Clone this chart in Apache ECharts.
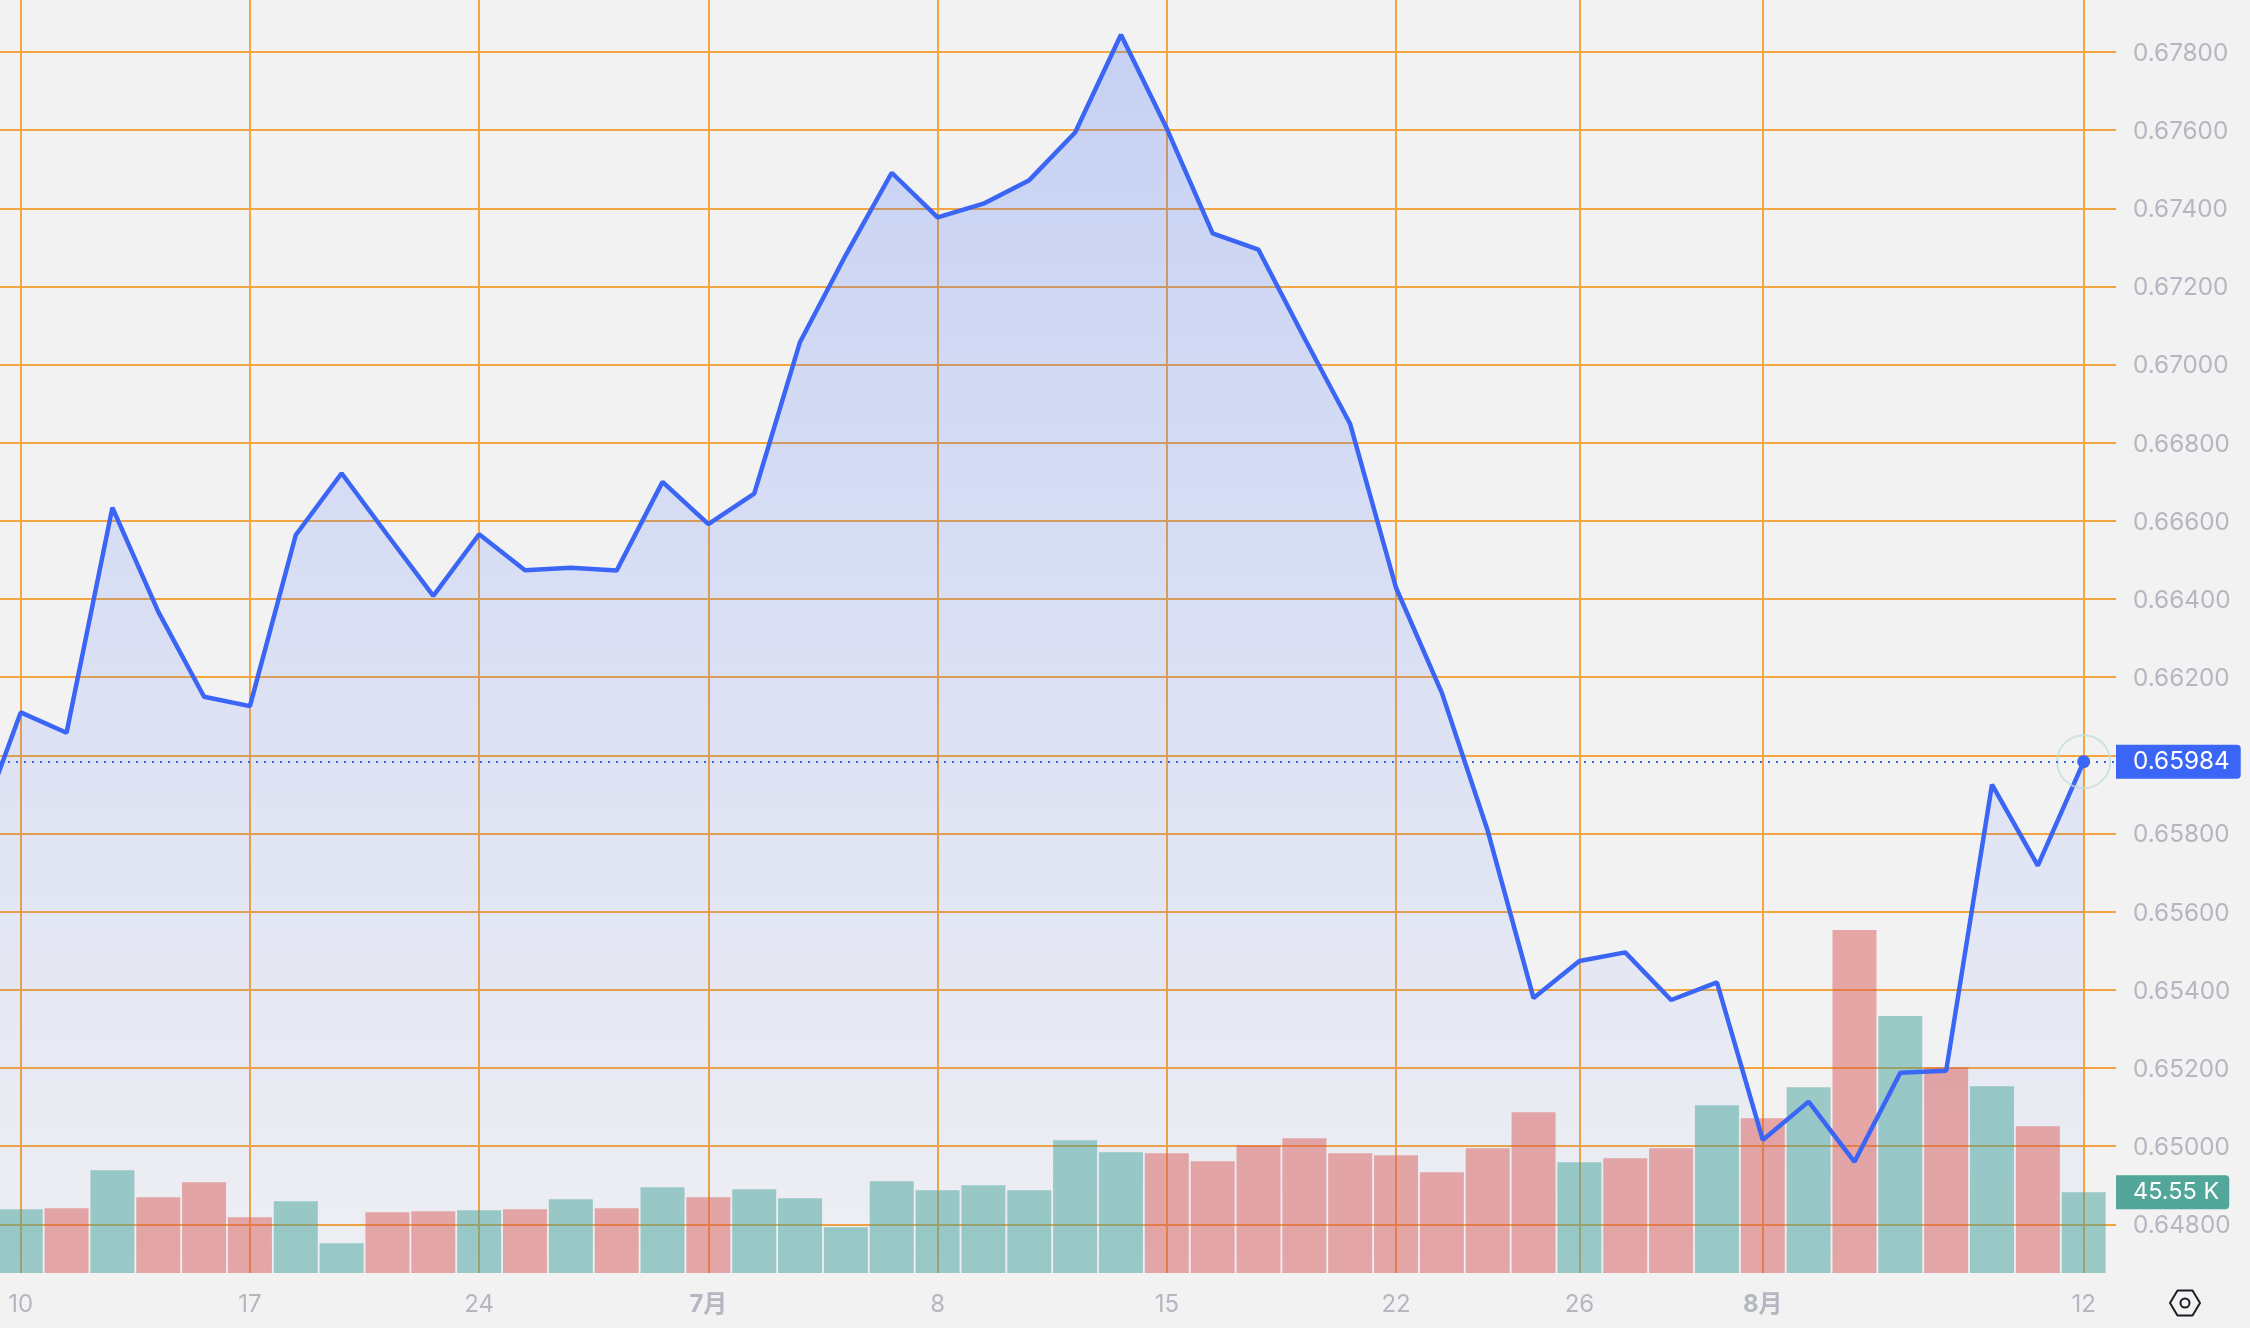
<!DOCTYPE html>
<html>
<head>
<meta charset="utf-8">
<style>html,body{margin:0;padding:0;background:#f2f2f3}#c{width:2250px;height:1328px}</style>
<script src="https://cdn.jsdelivr.net/npm/echarts@6/dist/echarts.min.js"></script>
</head>
<body>
<div id="c"></div>
<script>
// Prices; the first session sits just left of the visible window.
const closeValues = [0.65789,0.66110,0.66058,0.66634,0.66368,0.66150,0.66126,0.66564,0.66722,0.66564,0.66408,0.66566,0.66474,0.66480,0.66473,0.66700,0.66592,0.66670,0.67058,0.67281,0.67491,0.67377,0.67412,0.67472,0.67594,0.67844,0.67604,0.67336,0.67294,0.67068,0.66848,0.66429,0.66160,0.65807,0.65379,0.65474,0.65496,0.65374,0.65419,0.65016,0.65114,0.64960,0.65188,0.65193,0.65925,0.65718,0.65984];
// Volumes in thousands, starting from the session labelled 10.
const volumeValues = [35.9,36.5,58.0,42.7,51.2,31.4,40.5,16.8,34.3,34.8,35.4,35.9,41.6,36.5,48.4,42.7,47.2,42.2,25.8,51.8,46.7,49.5,46.7,74.9,68.1,67.6,63.0,72.1,76.0,67.6,66.4,56.8,70.4,90.7,62.5,64.7,70.4,94.6,87.3,104.8,193.4,144.9,116.1,105.4,82.8,45.55];
const volumeDirs = ['u','d','u','d','d','d','u','u','d','d','u','d','u','d','u','d','u','u','u','u','u','u','u','u','u','d','d','d','d','d','d','d','d','d','u','d','d','u','d','u','d','u','d','u','d','u'];
const xTickPositions = [1,6,11,16,21,26,31,35,39,46];
const xTickLabels = ['10','17','24','7月','8','15','22','26','8月','12'];
const boldLabels = ['7月','8月'];
const yTicks = [0.648,0.650,0.652,0.654,0.656,0.658,0.660,0.662,0.664,0.666,0.668,0.670,0.672,0.674,0.676,0.678];
const lastPrice = 0.65984;
const lastVolume = 45.55;

const BLUE = '#3b66f5', ORANGE = '#f2a541', GREY = '#b5b7c0', FONT = 'Inter';
const chart = echarts.init(document.getElementById('c'), null, {renderer:'canvas', width:2250, height:1328});
const linePts = closeValues.map((v,i)=>[i,v]);
const lastIdx = closeValues.length-1;

chart.setOption({
  animation:false,
  backgroundColor:'#f2f2f3',
  grid:{left:0, top:0, width:2116, height:1273},
  xAxis:{
    type:'value', min:0.5484, max:46.705,
    axisLine:{show:false},
    axisTick:{show:false, customValues:xTickPositions},
    splitLine:{show:true, lineStyle:{color:ORANGE, width:2}},
    axisLabel:{
      customValues:xTickPositions, margin:20, color:GREY, fontFamily:FONT, fontSize:24,
      formatter:v=>{
        const s = xTickLabels[xTickPositions.indexOf(v)];
        return boldLabels.includes(s) ? '{b|'+s+'}' : s;
      },
      rich:{b:{fontWeight:'bold', color:GREY, fontSize:24, fontFamily:'Inter, "Noto Sans CJK SC"'}}
    }
  },
  yAxis:[
    {type:'value', position:'right', min:0.646754, max:0.679331,
     axisLine:{show:false}, axisTick:{show:false, customValues:yTicks},
     splitLine:{show:true, lineStyle:{color:ORANGE, width:2}},
     axisLabel:{customValues:yTicks, margin:17, color:GREY, fontFamily:FONT, fontSize:24.3, align:'left',
       formatter:v=>'{t|'+v.toFixed(5)+'}',
       rich:{t:{color:GREY, fontFamily:FONT, fontSize:24.3, padding:[3,0,0,0]}}}},
    {type:'value', min:0, max:718, show:false, splitLine:{show:false}}
  ],
  series:[
    {name:'area', type:'line', z:1, data:linePts, symbol:'none', silent:true,
     lineStyle:{width:0},
     areaStyle:{origin:'start', opacity:1, color:new echarts.graphic.LinearGradient(0,0,0,1,[
       {offset:0,color:'rgba(59,102,245,0.24)'},
       {offset:1,color:'rgba(59,102,245,0.02)'}])}},
    {name:'volume', type:'bar', z:2, yAxisIndex:1, barWidth:44,
     data:volumeValues.map((v,i)=>({value:[i+1,v], itemStyle:{color:volumeDirs[i]==='u'?'rgba(68,162,154,0.5)':'rgba(216,88,84,0.49)'}})),
     markLine:{silent:true, symbol:'none', animation:false, precision:2,
       lineStyle:{color:'rgba(0,0,0,0)', width:0},
       label:{position:'end', distance:0, formatter:lastVolume.toFixed(2)+' K', color:'#fff', fontFamily:FONT, fontSize:23.5,
         backgroundColor:'#53a69a', padding:[7,10,4,17], borderRadius:[0,4,4,0], lineHeight:23},
       data:[{yAxis:lastVolume}]}},
    {name:'price', type:'line', z:3, data:linePts.map((p,i)=>i===lastIdx?{value:p,symbol:'circle',symbolSize:13,itemStyle:{color:BLUE}}:{value:p}),
     showSymbol:true, symbol:'none', lineStyle:{color:BLUE, width:4.5}, itemStyle:{color:BLUE},
     markLine:{silent:true, symbol:'none', animation:false, precision:5,
       lineStyle:{color:BLUE, type:[2,6], width:2},
       label:{position:'end', distance:0, formatter:lastPrice.toFixed(5), color:'#fff', fontFamily:FONT, fontSize:24.3,
         backgroundColor:BLUE, padding:[6,11,5,17], borderRadius:[0,4,4,0], lineHeight:23},
       data:[{yAxis:lastPrice}]}},
    {name:'pulse', type:'scatter', z:4, silent:true, data:[[lastIdx,lastPrice]], symbol:'circle', symbolSize:53,
     itemStyle:{color:'rgba(0,0,0,0)', borderColor:'#c2dfd8', borderWidth:2}}
  ],
  graphic:[
    {type:'polygon', shape:{points:[[2170,1303],[2177.5,1290.5],[2192.5,1290.5],[2200,1303],[2192.5,1315.5],[2177.5,1315.5]]},
     style:{fill:'none', stroke:'#1b1d26', lineWidth:2, lineJoin:'round'}},
    {type:'circle', shape:{cx:2185,cy:1303,r:4.5}, style:{fill:'none', stroke:'#1b1d26', lineWidth:2}}
  ]
});
</script>
</body>
</html>
